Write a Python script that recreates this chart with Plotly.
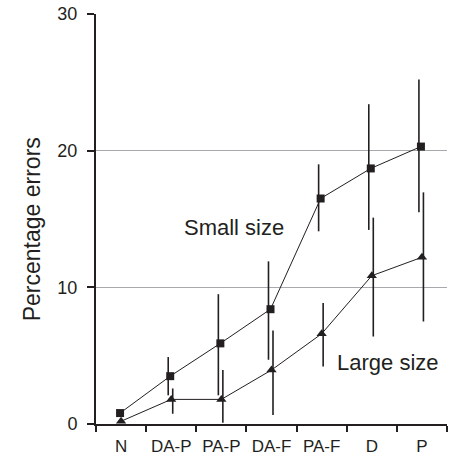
import plotly.graph_objects as go

categories = ["N", "DA-P", "PA-P", "DA-F", "PA-F", "D", "P"]

small_vals = [0.8, 3.5, 5.9, 8.4, 16.5, 18.7, 20.3]
small_upper = [0.8, 4.9, 9.5, 11.9, 19.0, 23.4, 25.2]
small_lower = [0.8, 2.1, 2.1, 4.7, 14.1, 14.2, 15.5]

large_vals = [0.2, 1.8, 1.8, 3.95, 6.6, 10.85, 12.2]
large_upper = [0.2, 2.6, 3.95, 6.85, 8.85, 15.1, 16.95]
large_lower = [0.2, 0.75, 0.1, 0.65, 4.2, 6.4, 7.5]

y_ticks = [0, 10, 20, 30]

INK = "#231f20"
FONT = "Liberation Sans, Arial, sans-serif"

idx = list(range(len(categories)))

def shift(d):
    return [i + d for i in idx]

fig = go.Figure()

# error bars (slightly offset from the markers as in the original)
fig.add_trace(go.Scatter(
    x=shift(-0.06), y=small_vals, mode="markers",
    marker=dict(size=1, color="rgba(0,0,0,0)"),
    error_y=dict(type="data", symmetric=False,
                 array=[u - v for u, v in zip(small_upper, small_vals)],
                 arrayminus=[v - l for v, l in zip(small_vals, small_lower)],
                 width=0, thickness=1.6, color=INK),
    showlegend=False, hoverinfo="skip"))
fig.add_trace(go.Scatter(
    x=shift(0.03), y=large_vals, mode="markers",
    marker=dict(size=1, color="rgba(0,0,0,0)"),
    error_y=dict(type="data", symmetric=False,
                 array=[u - v for u, v in zip(large_upper, large_vals)],
                 arrayminus=[v - l for v, l in zip(large_vals, large_lower)],
                 width=0, thickness=1.6, color=INK),
    showlegend=False, hoverinfo="skip"))

fig.add_trace(go.Scatter(
    x=shift(-0.02), y=small_vals, mode="lines+markers",
    line=dict(color=INK, width=1),
    marker=dict(symbol="square", size=8, color=INK),
    name="Small size", showlegend=False))
fig.add_trace(go.Scatter(
    x=shift(0.0), y=large_vals, mode="lines+markers",
    line=dict(color=INK, width=1),
    marker=dict(symbol="triangle-up", size=9, color=INK),
    name="Large size", showlegend=False))

fig.add_annotation(x=2.26, y=14.4, xref="x", yref="y", text="Small size",
                   showarrow=False, font=dict(family=FONT, size=22, color=INK))
fig.add_annotation(x=5.32, y=4.5, xref="x", yref="y", text="Large size",
                   showarrow=False, font=dict(family=FONT, size=22, color=INK))
fig.add_annotation(x=-0.225, y=0.475, xref="paper", yref="paper",
                   text="Percentage errors", textangle=-90, showarrow=False,
                   font=dict(family=FONT, size=23, color=INK))

fig.update_layout(
    width=453, height=456,
    margin=dict(l=96, r=6, t=14, b=32, autoexpand=False),
    paper_bgcolor="white", plot_bgcolor="white",
    font=dict(family=FONT, size=18, color=INK),
    xaxis=dict(
        range=[-0.5, 6.5], tickmode="array", tickvals=idx, ticktext=categories,
        ticks="", showgrid=False, zeroline=False, automargin=False,
        showline=True, linecolor=INK, linewidth=2,
        minor=dict(tick0=0.5, dtick=1, ticks="outside", ticklen=6,
                   tickwidth=1.5, tickcolor=INK, showgrid=False),
        tickfont=dict(family=FONT, size=17, color=INK),
        ticklabelstandoff=6,
    ),
    yaxis=dict(
        range=[0, 30], tickmode="array", tickvals=y_ticks, automargin=False,
        ticks="outside", ticklen=7, tickwidth=1.5, tickcolor=INK,
        showgrid=True, gridcolor="#a7a9ac", gridwidth=1.2,
        zeroline=False, showline=True, linecolor=INK, linewidth=2,
        tickfont=dict(family=FONT, size=18, color=INK),
        ticklabelstandoff=6,
    ),
)

fig.write_html("out.html",
               config={"displayModeBar": False},
               post_script="document.body.style.margin='0';document.body.style.overflow='hidden';")
